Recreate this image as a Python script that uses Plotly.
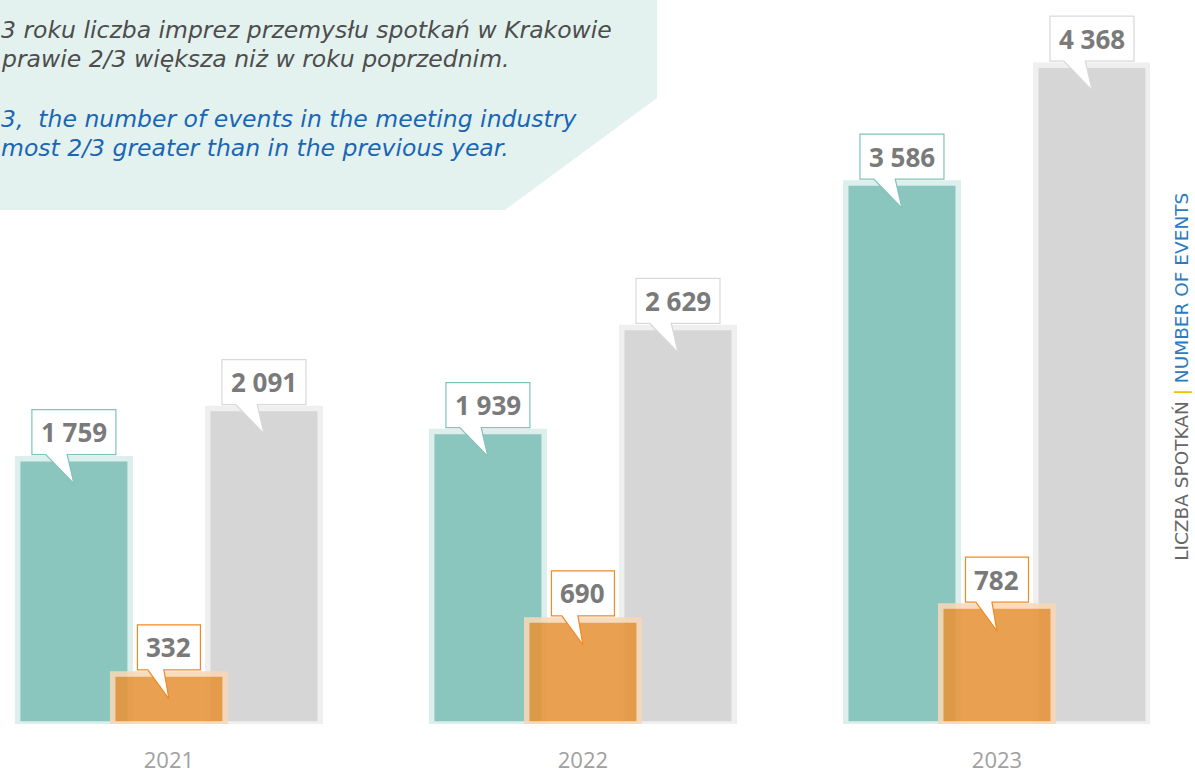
import plotly.graph_objects as go

# ---------------- data ----------------
years = ["2021", "2022", "2023"]
teal_values = [1759, 1939, 3586]
orange_values = [332, 690, 782]
gray_values = [2091, 2629, 4368]

polish_lines = [
    "3 roku liczba imprez przemysłu spotkań w Krakowie",
    "prawie 2/3 większa niż w roku poprzednim.",
]
english_lines = [
    "3,  the number of events in the meeting industry",
    "most 2/3 greater than in the previous year.",
]
axis_title_pl = "LICZBA SPOTKAŃ"
axis_title_en = "NUMBER OF EVENTS"

# ---------------- styling ----------------
W, H = 1195, 774
ML, MR, MT, MB = 0, 45, 0, 43
YMAX = 4800
X_RANGE = [-0.408, 2.3696]
BAR_W = 0.2717
STEP = 0.2295

series = [
    # values, offset, fill, halo, callout border, opacity
    (teal_values, -STEP, "#8ac6be", "#dcefec", "#7fc3ba", 1.0),
    (gray_values, STEP, "#d6d6d6", "#efefef", "#d9d9d9", 1.0),
    (orange_values, 0.0, "#e8943a", "#f7d8b8", "#f08a24", 0.88),
]

fig = go.Figure()

for vals, off, fill, halo, border, op in series:
    xs = [i + off for i in range(len(years))]
    fig.add_trace(go.Bar(
        x=xs, y=vals, width=BAR_W,
        marker=dict(color=fill, line=dict(color=halo, width=5.5)),
        opacity=op, showlegend=False, hoverinfo="skip",
    ))


def fmt(v):
    return f"{v:,}".replace(",", " ")


shapes = []
annotations = []

# text panel
shapes.append(dict(
    type="path", xref="paper", yref="paper",
    xsizemode="pixel", ysizemode="pixel", xanchor=0, yanchor=1,
    path="M0,0 L657,0 L657,-98 L505,-210 L0,-210 Z",
    fillcolor="#e4f2ef", line=dict(width=0), layer="below",
))

# callouts
for vals, off, fill, halo, border, op in series:
    for i, v in enumerate(vals):
        label = fmt(v)
        ndig = sum(c.isdigit() for c in label)
        nsp = label.count(" ")
        w = 15 * ndig + 6 * nsp + 18
        h = 45
        b = 4
        x1 = -w / 2 + 0.165 * w
        x2 = -w / 2 + 0.42 * w
        p = (f"M{-w/2},{b} L{x1},{b} L0,-25 L{x2},{b} L{w/2},{b} "
             f"L{w/2},{b+h} L{-w/2},{b+h} Z")
        shapes.append(dict(
            type="path", xref="x", yref="y",
            xsizemode="pixel", ysizemode="pixel",
            xanchor=i + off, yanchor=v, path=p,
            fillcolor="white", line=dict(color=border, width=1.2),
            layer="above",
        ))
        annotations.append(dict(
            x=i + off, y=v, xref="x", yref="y", text=f"<b>{label}</b>",
            showarrow=False, yanchor="middle", yshift=b + h / 2,
            font=dict(family="Open Sans", size=26, color="#7a7a7a"),
        ))

# panel text
LINE_H = 28
for lines, tops, color in (
    (polish_lines, [15, 44], "#4d4d4d"),
    (english_lines, [104, 133], "#1a66b4"),
):
    for t, top in zip(lines, tops):
        annotations.append(dict(
            x=0, y=1, xref="paper", yref="paper", xanchor="left", yanchor="top",
            yshift=-top, height=LINE_H, valign="middle", borderpad=0,
            text=t, showarrow=False,
            font=dict(family="DejaVu Sans", size=23.5, color=color,
                      style="italic"),
        ))

# vertical axis title
annotations.append(dict(
    x=1, y=1 - 381 / (H - MB), xref="paper", yref="paper",
    xshift=44, textangle=-90, showarrow=False,
    text=(f"<span style='color:#666666'>{axis_title_pl}</span> "
          f"<span style='color:#f2c200'>|</span> "
          f"<span style='color:#2b7bc0'>{axis_title_en}</span>"),
    font=dict(family="DejaVu Sans", size=18.5),
))

fig.update_layout(
    width=W, height=H,
    margin=dict(l=ML, r=MR, t=MT, b=MB, pad=0),
    barmode="overlay",
    plot_bgcolor="white", paper_bgcolor="white",
    shapes=shapes, annotations=annotations,
    xaxis=dict(
        range=X_RANGE, tickvals=list(range(len(years))), ticktext=years,
        showgrid=False, zeroline=False, showline=False, ticks="",
        tickfont=dict(family="Open Sans", size=22, color="#a0a0a0"),
        ticklabelstandoff=21, fixedrange=True,
    ),
    yaxis=dict(range=[0, YMAX], visible=False, fixedrange=True),
)

fig.write_html(
    "out.html",
    config={"displayModeBar": False},
    post_script="document.body.style.margin='0';document.body.style.padding='0';",
)
